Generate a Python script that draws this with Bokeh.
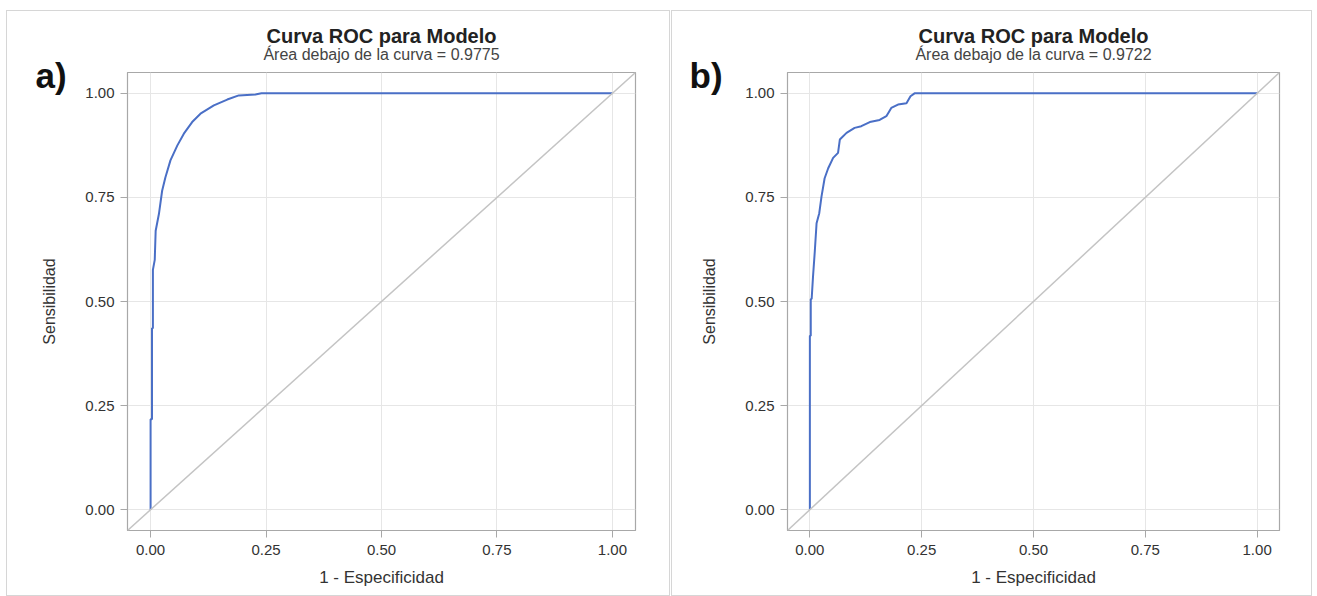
from bokeh.plotting import figure
from bokeh.layouts import row
from bokeh.models import FixedTicker, NumeralTickFormatter, Slope, Title
from bokeh.embed import file_html
from bokeh.resources import INLINE

# ---- data ----
ticks = [0.0, 0.25, 0.50, 0.75, 1.0]

fpr_a = [0.0, 0.0, 0.003, 0.003, 0.005, 0.005, 0.009, 0.011, 0.018, 0.025, 0.032,
         0.043, 0.058, 0.072, 0.090, 0.108, 0.137, 0.166, 0.191, 0.227, 0.240, 1.0]
tpr_a = [0.0, 0.217, 0.217, 0.436, 0.436, 0.576, 0.600, 0.670, 0.710, 0.766, 0.798,
         0.839, 0.875, 0.903, 0.931, 0.951, 0.971, 0.985, 0.995, 0.997, 1.0, 1.0]

fpr_b = [0.0, 0.0, 0.002, 0.002, 0.004, 0.007, 0.011, 0.015, 0.021, 0.026, 0.033,
         0.041, 0.052, 0.063, 0.067, 0.082, 0.100, 0.115, 0.134, 0.156, 0.171,
         0.182, 0.197, 0.216, 0.225, 0.234, 1.0]
tpr_b = [0.0, 0.418, 0.418, 0.506, 0.506, 0.559, 0.620, 0.688, 0.712, 0.752, 0.796,
         0.820, 0.845, 0.857, 0.889, 0.905, 0.917, 0.921, 0.931, 0.936, 0.945,
         0.965, 0.973, 0.976, 0.993, 1.0, 1.0]

titles = ["Curva ROC para Modelo", "Curva ROC para Modelo"]
subtitles = ["Área debajo de la curva = 0.9775", "Área debajo de la curva = 0.9722"]
panel_tags = ["a)", "b)"]
x_label = "1 - Especificidad"
y_label = "Sensibilidad"

FONT = "Liberation Sans"
CURVE = "#4a6fc6"


def add_title(p, text, size, style, color, align, offset, valign, standoff, fallback):
    t = Title(text=text, align=align, offset=offset, vertical_align=valign,
              text_font=FONT, text_font_size=size, text_font_style=style,
              text_color=color)
    try:
        t.standoff = standoff
    except Exception:
        t.standoff = fallback
    p.add_layout(t, "above")


def make_panel(fpr, tpr, title, subtitle, tag, width, mb_left, mb_right, margin, tag_offset):
    p = figure(width=width, height=586, x_range=(-0.05, 1.05), y_range=(-0.05, 1.05),
               output_backend="svg", toolbar_location=None,
               min_border_left=mb_left, min_border_right=mb_right,
               min_border_top=61, min_border_bottom=67)
    p.margin = margin
    p.styles = {"border": "1px solid #d6d6d6"}
    p.background_fill_color = "white"
    p.border_fill_color = "white"
    p.outline_line_color = "#a8a8a8"
    p.outline_line_width = 1.2

    for ax in (p.xaxis[0], p.yaxis[0]):
        ax.ticker = FixedTicker(ticks=ticks)
        ax.formatter = NumeralTickFormatter(format="0.00")
        ax.axis_line_color = "#a8a8a8"
        ax.major_tick_line_color = "#a8a8a8"
        ax.major_tick_out = 7
        ax.major_tick_in = 0
        ax.minor_tick_line_color = None
        ax.major_label_text_font = FONT
        ax.major_label_text_font_size = "15px"
        ax.major_label_text_color = "#333333"
        ax.axis_label_text_font = FONT
        ax.axis_label_text_font_style = "normal"
        ax.axis_label_text_color = "#333333"
    p.xaxis.axis_label = x_label
    p.yaxis.axis_label = y_label
    p.xaxis.axis_label_text_font_size = "17px"
    p.yaxis.axis_label_text_font_size = "16px"
    p.xaxis.major_label_standoff = 7
    p.xaxis.axis_label_standoff = 10
    p.yaxis.major_label_standoff = 6
    p.yaxis.axis_label_standoff = 24

    p.grid.grid_line_color = "#e6e6e6"
    p.grid.grid_line_width = 1

    p.add_layout(Slope(gradient=1, y_intercept=0, line_color="#c4c4c4", line_width=1.5))
    p.line(fpr, tpr, line_color=CURVE, line_width=2)

    # header stack (nearest to the frame first)
    add_title(p, tag, "35px", "bold", "#111111", "left", tag_offset, "bottom", -44, 0)
    add_title(p, subtitle, "16px", "normal", "#444444", "center", 0, "bottom", 20, 20)
    add_title(p, title, "20px", "bold", "#222222", "center", 0, "bottom", -26, 0)
    return p


p1 = make_panel(fpr_a, tpr_a, titles[0], subtitles[0], panel_tags[0],
                664, 120, 36, (10, 0, 0, 6), -92)
p2 = make_panel(fpr_b, tpr_b, titles[1], subtitles[1], panel_tags[1],
                641, 115, 34, (10, 0, 0, 1), -98)

layout = row(p1, p2)
open("out.html", "w").write(file_html(layout, INLINE))
